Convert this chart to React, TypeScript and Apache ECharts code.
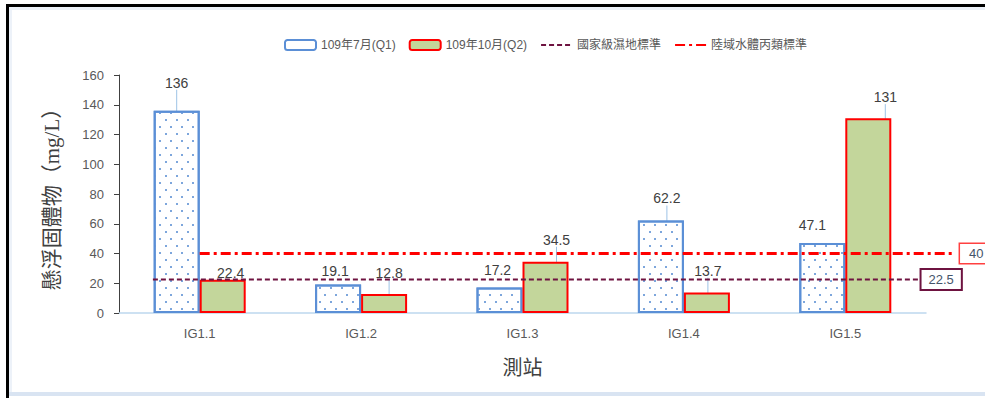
import React, { useEffect, useRef } from 'react';
import * as echarts from 'echarts';

// ---- data ----
const categories = ['IG1.1', 'IG1.2', 'IG1.3', 'IG1.4', 'IG1.5'];
const q1Name = '109年7月(Q1)';
const q2Name = '109年10月(Q2)';
const q1Values = [136, 19.1, 17.2, 62.2, 47.1];
const q2Values = [22.4, 12.8, 34.5, 13.7, 131];

const wetlandName = '國家級濕地標準';
const wetlandValue = 22.5;
const wetlandSpan = [0.21, 4.96]; // in category-width units along x

const landWaterName = '陸域水體丙類標準';
const landWaterValue = 40;
const landWaterSpan = [0.5, 5.18];

const yMin = 0;
const yMax = 160;
const yInterval = 20;

const xAxisTitle = '測站';
const yAxisTitle = '懸浮固體物（mg/L）';

// label placement tweaks (Excel-style moved labels with leader lines)
const q1LabelShift = [[0, -16], [-3, -2], [-2, -5], [6, -10], [-10, -6]];
const q2LabelShift = [[8, 5], [5, -9], [11, -10], [1, -10], [17, -9]];
const q1Leader = [true, false, false, true, false];
const q2Leader = [false, true, true, true, true];

const sansFont = "'Liberation Sans', 'Noto Sans CJK TC', sans-serif";
const serifFont = "'Liberation Serif', 'Noto Sans CJK TC', serif";

// plot geometry
const gridLeft = 119;
const gridRight = 59;
const gridTop = 75;
const gridBottom = 85;
const chartW = 985;
const catWidth = (chartW - gridLeft - gridRight) / categories.length;
const refAxisMax = 5.25; // overlay axis spans a bit more than the categories so lines can run past the plot

export default function App() {
  const ref = useRef<HTMLDivElement>(null);

  useEffect(() => {
    if (!ref.current) return;
    const chart = echarts.init(ref.current, undefined, { renderer: 'svg' });

    const labelCommon = {
      show: true,
      position: 'top' as const,
      distance: 5,
      color: '#404040',
      fontSize: 14,
      fontFamily: sansFont,
    };

    const option: any = {
      animation: false,
      backgroundColor: '#ffffff',
      graphic: [
        { type: 'rect', shape: { x: 9, y: 7, width: 976, height: 3 }, style: { fill: '#EDF2F9' }, silent: true },
        { type: 'rect', shape: { x: 9, y: 7, width: 3, height: 385 }, style: { fill: '#EDF2F9' }, silent: true },
        { type: 'rect', shape: { x: 6, y: 4, width: 979, height: 3 }, style: { fill: '#000000' }, silent: true },
        { type: 'rect', shape: { x: 6, y: 4, width: 3, height: 394 }, style: { fill: '#000000' }, silent: true },
        { type: 'rect', shape: { x: 9, y: 392, width: 976, height: 4 }, style: { fill: '#D9E4F2' }, silent: true },
      ],
      legend: {
        left: 279,
        top: 34,
        itemWidth: 31,
        itemHeight: 10,
        itemGap: 13,
        textStyle: { color: '#595959', fontSize: 12, fontFamily: sansFont },
        data: [
          { name: q1Name, itemStyle: { decal: 'none' } },
          { name: q2Name },
          { name: wetlandName, itemStyle: { opacity: 0 } },
          { name: landWaterName, itemStyle: { opacity: 0 } },
        ],
      },
      grid: [
        { left: gridLeft, right: gridRight, top: gridTop, bottom: gridBottom },
        { left: gridLeft, right: chartW - gridLeft - catWidth * refAxisMax, top: gridTop, bottom: gridBottom },
      ],
      xAxis: [
        {
          type: 'category',
          gridIndex: 0,
          data: categories,
          axisLine: { show: true, lineStyle: { color: '#BDD7EE', width: 1.5 } },
          axisTick: { show: false },
          axisLabel: { color: '#595959', fontSize: 13, fontFamily: sansFont, margin: 14 },
          name: xAxisTitle,
          nameLocation: 'middle',
          nameGap: 45,
          nameTextStyle: { color: '#404040', fontSize: 20, fontFamily: serifFont },
        },
        {
          type: 'value',
          gridIndex: 1,
          min: 0,
          max: refAxisMax,
          show: false,
        },
      ],
      yAxis: [
        {
          type: 'value',
          gridIndex: 0,
          min: yMin,
          max: yMax,
          interval: yInterval,
          splitLine: { show: false },
          axisLine: { show: true, lineStyle: { color: '#404040', width: 1 } },
          axisTick: { show: true, length: 5, lineStyle: { color: '#404040' } },
          axisLabel: { color: '#595959', fontSize: 13, fontFamily: sansFont, margin: 15 },
          name: yAxisTitle,
          nameLocation: 'middle',
          nameRotate: 90,
          nameGap: 57,
          nameTextStyle: { color: '#404040', fontSize: 21, fontFamily: serifFont },
        },
        {
          type: 'value',
          gridIndex: 1,
          min: yMin,
          max: yMax,
          interval: yInterval,
          show: false,
        },
      ],
      series: [
        {
          name: q1Name,
          type: 'bar',
          xAxisIndex: 0,
          yAxisIndex: 0,
          barWidth: 46,
          barGap: '0%',
          data: q1Values.map((v, i) => ({ value: v, labelLine: { show: q1Leader[i] } })),
          itemStyle: {
            color: '#ffffff',
            borderColor: '#5B8FD6',
            borderWidth: 2,
            decal: {
              symbol: 'rect',
              symbolSize: 1,
              color: '#7DA6DC',
              dashArrayX: [[1.5, 8.5], [0, 5, 1.5, 3.5]],
              dashArrayY: [1.5, 5],
              rotation: 0,
            },
          },
          label: labelCommon,
          labelLine: { show: true, lineStyle: { color: '#9DC3E6', width: 1 } },
          labelLayout: (p: any) => ({ dx: q1LabelShift[p.dataIndex][0], dy: q1LabelShift[p.dataIndex][1] }),
        },
        {
          name: q2Name,
          type: 'bar',
          xAxisIndex: 0,
          yAxisIndex: 0,
          barWidth: 46,
          barGap: '0%',
          data: q2Values.map((v, i) => ({ value: v, labelLine: { show: q2Leader[i] } })),
          itemStyle: { color: '#C3D69B', borderColor: '#FF0000', borderWidth: 2 },
          label: labelCommon,
          labelLine: { show: true, lineStyle: { color: '#9DC3E6', width: 1 } },
          labelLayout: (p: any) => ({ dx: q2LabelShift[p.dataIndex][0], dy: q2LabelShift[p.dataIndex][1] }),
        },
        {
          name: wetlandName,
          type: 'line',
          xAxisIndex: 1,
          yAxisIndex: 1,
          clip: false,
          symbol: 'none',
          data: wetlandSpan.map((x) => [x, wetlandValue]),
          lineStyle: { color: '#6E1340', width: 2, type: [5, 3] },
          itemStyle: { color: '#6E1340' },
          endLabel: {
            show: true,
            formatter: () => String(wetlandValue),
            distance: 2,
            color: '#44546A',
            fontSize: 13,
            fontFamily: sansFont,
            backgroundColor: '#ffffff',
            borderColor: '#6E1340',
            borderWidth: 2,
            padding: [3, 7],
          },
          z: 5,
        },
        {
          name: landWaterName,
          type: 'line',
          xAxisIndex: 1,
          yAxisIndex: 1,
          clip: false,
          symbol: 'none',
          data: landWaterSpan.map((x) => [x, landWaterValue]),
          lineStyle: { color: '#FF0000', width: 3, type: [10, 4, 3, 4] },
          itemStyle: { color: '#FF0000' },
          endLabel: {
            show: true,
            formatter: () => String(landWaterValue),
            distance: 5,
            color: '#44546A',
            fontSize: 13,
            fontFamily: sansFont,
            backgroundColor: '#ffffff',
            borderColor: '#FF4040',
            borderWidth: 1.5,
            padding: [3, 9],
          },
          z: 5,
        },
      ],
    };

    chart.setOption(option);
    return () => chart.dispose();
  }, []);

  return (
    <div
      ref={ref}
      style={{ position: 'fixed', left: 0, top: 0, width: 985, height: 398, background: '#fff' }}
    />
  );
}
